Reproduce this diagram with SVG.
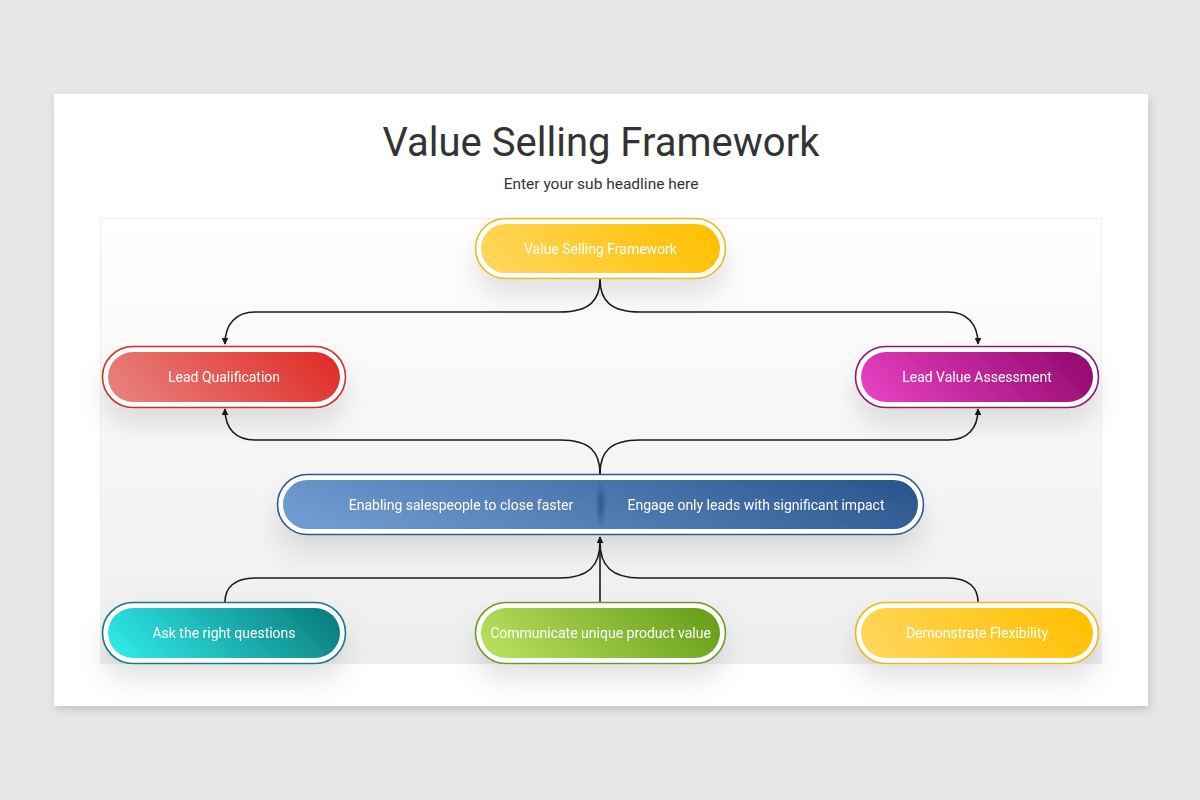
<svg xmlns="http://www.w3.org/2000/svg" width="1200" height="800" viewBox="0 0 1200 800">
<defs>
<style>
.title{font-family:Roboto,"Liberation Sans",sans-serif;font-size:40px;fill:#333;text-anchor:middle}
.sub{font-family:Roboto,"Liberation Sans",sans-serif;font-size:15.5px;fill:#333;text-anchor:middle}
.lbl{font-family:Roboto,"Liberation Sans",sans-serif;font-size:14px;font-weight:400;fill:#fff;text-anchor:middle}
.conn{fill:none;stroke:#1a1a1a;stroke-width:1.6}
.outer{fill:#fff;stroke-width:1.6}
</style>
<linearGradient id="panel" x1="0" y1="0" x2="0" y2="1"><stop offset="0" stop-color="#ffffff"/><stop offset="1" stop-color="#eeeeee"/></linearGradient>
<linearGradient id="gYellow" x1="0" y1="0.6" x2="1" y2="0.4"><stop offset="0" stop-color="#ffd65c"/><stop offset="1" stop-color="#ffc000"/></linearGradient>
<linearGradient id="gRed" x1="0" y1="0.6" x2="1" y2="0.4"><stop offset="0" stop-color="#e87f7c"/><stop offset="1" stop-color="#e02f2b"/></linearGradient>
<linearGradient id="gMag" x1="0" y1="0.6" x2="1" y2="0.4"><stop offset="0" stop-color="#e53fc0"/><stop offset="1" stop-color="#960b70"/></linearGradient>
<linearGradient id="gBlue" x1="0" y1="0.6" x2="1" y2="0.4"><stop offset="0" stop-color="#6f9bd1"/><stop offset="1" stop-color="#2c5890"/></linearGradient>
<linearGradient id="gTeal" x1="0" y1="0.6" x2="1" y2="0.4"><stop offset="0" stop-color="#2fe6e6"/><stop offset="1" stop-color="#0c8080"/></linearGradient>
<linearGradient id="gGreen" x1="0" y1="0.6" x2="1" y2="0.4"><stop offset="0" stop-color="#b6de5c"/><stop offset="1" stop-color="#69a01c"/></linearGradient>
<radialGradient id="divider" cx="0.5" cy="0.5" r="0.5"><stop offset="0" stop-color="#2c5488" stop-opacity="0.9"/><stop offset="1" stop-color="#2c5488" stop-opacity="0"/></radialGradient>
<filter id="cardShadow" x="-5%" y="-5%" width="110%" height="115%"><feDropShadow dx="2" dy="4" stdDeviation="5" flood-color="#000" flood-opacity="0.15"/></filter>
<filter id="nodeShadow" x="-30%" y="-60%" width="160%" height="300%"><feDropShadow dx="0" dy="16" stdDeviation="13" flood-color="#000" flood-opacity="0.11"/></filter>
<marker id="arrow" viewBox="0 0 10 10" refX="9" refY="5" markerWidth="7" markerHeight="7" markerUnits="userSpaceOnUse" orient="auto"><path d="M0,0 L10,5 L0,10 Z" fill="#1a1a1a"/></marker>
</defs>
<rect x="0" y="0" width="1200" height="800" fill="#e8e6e8"/>
<rect x="54" y="94" width="1094" height="612" fill="#fff" filter="url(#cardShadow)"/>
<rect x="100.5" y="218.5" width="1001" height="445" fill="url(#panel)" stroke="#f0f0f0"/>
<text class="title" x="601" y="156">Value Selling Framework</text>
<text class="sub" x="601" y="189">Enter your sub headline here</text>

<g id="connectors">
<path class="conn" d="M600,279 C600,300 590,312 560,312 L255,312 C236,312 225,324 225,344" marker-end="url(#arrow)"/>
<path class="conn" d="M600,279 C600,300 610,312 640,312 L948,312 C967,312 978,324 978,344" marker-end="url(#arrow)"/>
<path class="conn" d="M600,474 C600,452 590,440 560,440 L255,440 C236,440 225,429 225,409" marker-end="url(#arrow)"/>
<path class="conn" d="M600,474 C600,452 610,440 640,440 L948,440 C967,440 978,429 978,409" marker-end="url(#arrow)"/>
<path class="conn" d="M225,602 C225,588 234,578 255,578 L560,578 C588,578 600,566 600,542"/>
<path class="conn" d="M978,602 C978,588 969,578 948,578 L640,578 C612,578 600,566 600,542"/>
<path class="conn" d="M600,602 L600,537" marker-end="url(#arrow)"/>
</g>

<g id="node-top" filter="url(#nodeShadow)">
<rect class="outer" x="475.5" y="218.5" width="250" height="60" rx="30" stroke="#e9b81c"/>
<rect x="481" y="224" width="239" height="49" rx="24.5" fill="url(#gYellow)"/>
<text class="lbl" x="600.5" y="254">Value Selling Framework</text>
</g>
<g id="node-lead-qualification" filter="url(#nodeShadow)">
<rect class="outer" x="102.5" y="346.5" width="243" height="61" rx="30.5" stroke="#cf2e2b"/>
<rect x="108" y="352" width="232" height="50" rx="25" fill="url(#gRed)"/>
<text class="lbl" x="224" y="382">Lead Qualification</text>
</g>
<g id="node-lead-value" filter="url(#nodeShadow)">
<rect class="outer" x="855.5" y="346.5" width="243" height="61" rx="30.5" stroke="#8f1a6d"/>
<rect x="861" y="352" width="232" height="50" rx="25" fill="url(#gMag)"/>
<text class="lbl" x="977" y="382">Lead Value Assessment</text>
</g>
<g id="node-center" filter="url(#nodeShadow)">
<rect class="outer" x="277.5" y="474.5" width="646" height="60" rx="30" stroke="#2d5891"/>
<rect x="283" y="480" width="635" height="49" rx="24.5" fill="url(#gBlue)"/>
<ellipse cx="601" cy="504.5" rx="6" ry="25" fill="url(#divider)"/>
<text class="lbl" x="461" y="510">Enabling salespeople to close faster</text>
<text class="lbl" x="756" y="510">Engage only leads with significant impact</text>
</g>
<g id="node-ask" filter="url(#nodeShadow)">
<rect class="outer" x="102.5" y="602.5" width="243" height="61" rx="30.5" stroke="#137a7f"/>
<rect x="108" y="608" width="232" height="50" rx="25" fill="url(#gTeal)"/>
<text class="lbl" x="224" y="638">Ask the right questions</text>
</g>
<g id="node-communicate" filter="url(#nodeShadow)">
<rect class="outer" x="475.5" y="602.5" width="250" height="61" rx="30.5" stroke="#6e9c24"/>
<rect x="481" y="608" width="239" height="50" rx="25" fill="url(#gGreen)"/>
<text class="lbl" x="600.5" y="638">Communicate unique product value</text>
</g>
<g id="node-demonstrate" filter="url(#nodeShadow)">
<rect class="outer" x="855.5" y="602.5" width="243" height="61" rx="30.5" stroke="#e9b81c"/>
<rect x="861" y="608" width="232" height="50" rx="25" fill="url(#gYellow)"/>
<text class="lbl" x="977" y="638">Demonstrate Flexibility</text>
</g>
</svg>
